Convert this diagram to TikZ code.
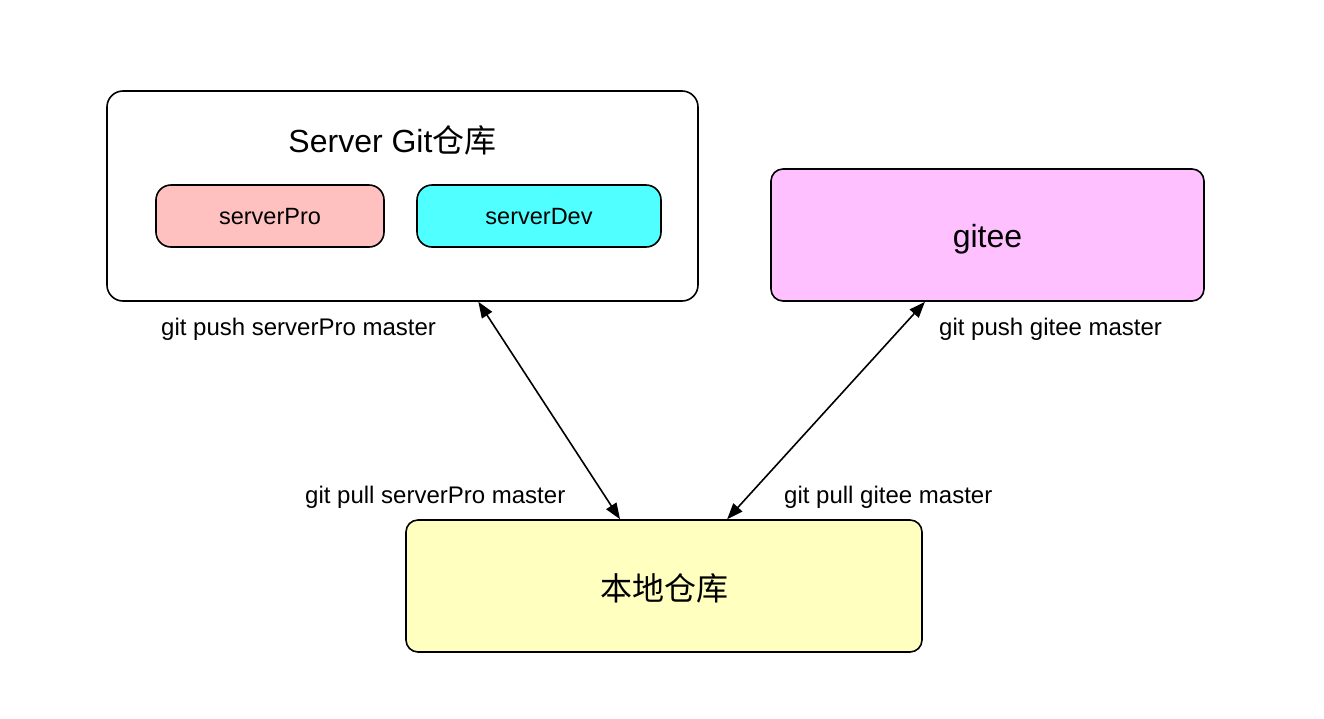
\documentclass[tikz,border=0pt]{standalone}
\usepackage{fontspec}
\setmainfont{Liberation Sans}
\newfontfamily\cjk{Noto Sans CJK SC}
\usetikzlibrary{arrows.meta,calc}
\definecolor{proFill}{HTML}{FFC0C0}
\definecolor{devFill}{HTML}{50FFFF}
\definecolor{giteeFill}{HTML}{FFC0FF}
\definecolor{localFill}{HTML}{FFFFC0}
\tikzset{
  box/.style={draw=black, line width=1.6pt, rectangle, inner sep=0pt},
  bigtxt/.style={font=\fontsize{32}{38}\selectfont, inner sep=0pt},
  smalltxt/.style={font=\fontsize{23.5}{28}\selectfont, inner sep=0pt},
  lbl/.style={font=\fontsize{24}{29}\selectfont, inner sep=0pt, anchor=base west},
  conn/.style={line width=1.6pt, {Triangle[length=16pt,width=12pt]}-{Triangle[length=16pt,width=12pt]}}
}
\begin{document}
\begin{tikzpicture}[x=1pt,y=-1pt]
\useasboundingbox (0,0) rectangle (1324,718);
\fill[white] (0,0) rectangle (1324,718);
\node[box, rounded corners=16pt, minimum width=591pt, minimum height=210pt] (srv) at (402.5,196) {};
\node[bigtxt, anchor=base] (srvtitle) at (392.5,152) {Server Git{\cjk 仓库}};
\node[box, fill=proFill, rounded corners=15pt, minimum width=228pt, minimum height=62pt] (pro) at (270,216) {};
\node[smalltxt, anchor=base] (protxt) at (270,224) {serverPro};
\node[box, fill=devFill, rounded corners=15pt, minimum width=244pt, minimum height=62pt] (dev) at (539,216) {};
\node[smalltxt, anchor=base] (devtxt) at (539,224) {serverDev};
\node[box, fill=giteeFill, rounded corners=12pt, minimum width=433pt, minimum height=132pt] (gitee) at (987.5,235) {};
\node[bigtxt, anchor=base] (giteetxt) at (987.5,247) {gitee};
\node[box, fill=localFill, rounded corners=12pt, minimum width=516pt, minimum height=132pt] (local) at (664,586) {};
\node[bigtxt] (localtxt) at (664,588) {\cjk 本地仓库};
\node[lbl] (l1) at (161,335) {git push serverPro master};
\node[lbl] (l2) at (939,335) {git push gitee master};
\node[lbl] (l3) at (305,503) {git pull serverPro master};
\node[lbl] (l4) at (784,503) {git pull gitee master};
\draw[conn] ($(srv.south west)!0.628!(srv.south east)$) -- ($(local.north west)!0.415!(local.north east)$);
\draw[conn] ($(gitee.south west)!0.356!(gitee.south east)$) -- ($(local.north west)!0.622!(local.north east)$);
\end{tikzpicture}
\end{document}
